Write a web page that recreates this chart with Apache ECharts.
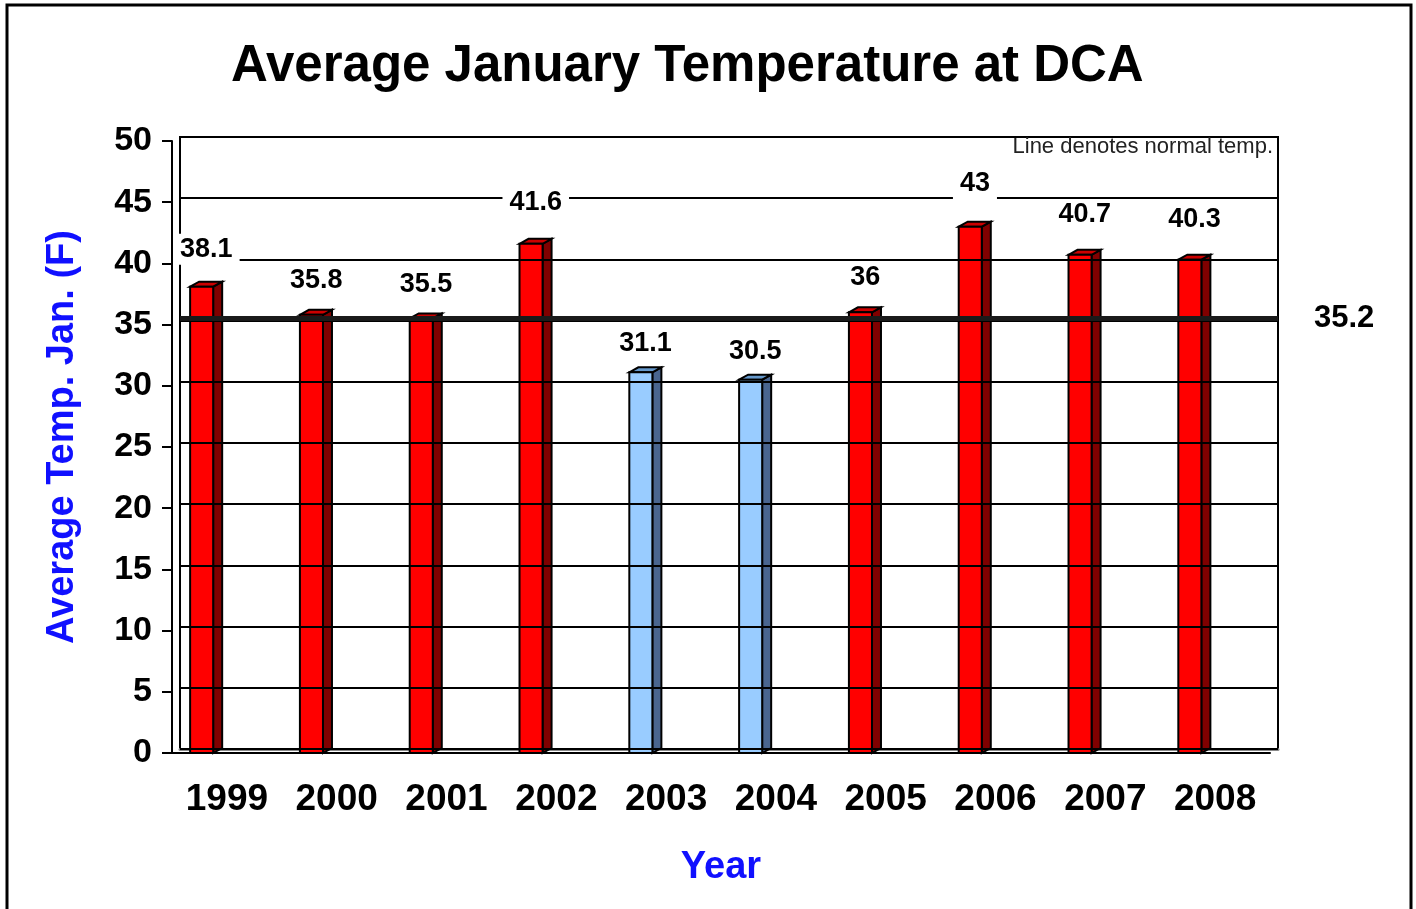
<!DOCTYPE html>
<html>
<head>
<meta charset="utf-8">
<title>Average January Temperature at DCA</title>
<script src="https://cdn.jsdelivr.net/npm/echarts@6/dist/echarts.min.js"></script>
<style>
  html, body { margin: 0; padding: 0; background: #fff; }
  #chart { width: 1416px; height: 909px; }
</style>
</head>
<body>
<div id="chart"></div>
<script>
// data
const years = ["1999", "2000", "2001", "2002", "2003", "2004", "2005", "2006", "2007", "2008"];
const temps = [38.1, 35.8, 35.5, 41.6, 31.1, 30.5, 36, 43, 40.7, 40.3];
const normalTemp = 35.2;
const yTicks = { min: 0, max: 50, step: 5 };

const font = "Liberation Sans, Arial, sans-serif";
const chart = echarts.init(document.getElementById("chart"));

// 3d-ish column: front face, side and top
function renderBar(params, api) {
  const i = api.value(0);
  const v = api.value(1);
  const top = api.coord([i, v]);
  const base = api.coord([i, 0]);
  const band = api.size([1, 0])[0];
  const w = band * 0.21;
  const x0 = top[0] - band * 0.335;
  const dx = 9, dy = 5;
  const cold = v < normalTemp;
  const front = cold ? "#99ccff" : "#ff0000";
  const side = cold ? "#4a6690" : "#800000";
  const lid = cold ? "#6699cc" : "#cc0000";
  const edge = { stroke: "#000", lineWidth: 2 };
  return {
    type: "group",
    children: [
      {
        type: "polygon",
        shape: { points: [[x0 + w, top[1]], [x0 + w + dx, top[1] - dy], [x0 + w + dx, base[1] - dy], [x0 + w, base[1]]] },
        style: Object.assign({ fill: side }, edge)
      },
      {
        type: "polygon",
        shape: { points: [[x0, top[1]], [x0 + dx, top[1] - dy], [x0 + w + dx, top[1] - dy], [x0 + w, top[1]]] },
        style: Object.assign({ fill: lid }, edge)
      },
      {
        type: "rect",
        shape: { x: x0, y: top[1], width: w, height: base[1] - top[1] },
        style: Object.assign({ fill: front }, edge)
      }
    ]
  };
}

// value labels float higher for taller columns (perspective of the old 3d chart)
function renderLabel(params, api) {
  const i = api.value(0);
  const v = api.value(1);
  const p = api.coord([i, v]);
  const band = api.size([1, 0])[0];
  const lift = 24 + (v - 30) * 1.15;
  return {
    type: "text",
    style: {
      text: String(v),
      x: p[0] - band * 0.26,
      y: p[1] - lift,
      align: "center",
      verticalAlign: "middle",
      font: "bold 27px " + font,
      fill: "#000",
      backgroundColor: "#fff",
      padding: [2, 7]
    }
  };
}

const option = {
  backgroundColor: "#fff",
  animation: false,
  title: {
    text: "Average January Temperature at DCA",
    left: 226,
    top: 36,
    textStyle: { fontFamily: font, fontWeight: "bold", fontSize: 51, color: "#000" }
  },
  graphic: [
    {
      type: "rect",
      shape: { x: 7, y: 5, width: 1404, height: 930 },
      style: { fill: null, stroke: "#000", lineWidth: 3 },
      z: 10
    },
    {
      type: "text",
      style: {
        text: "Line denotes normal temp.",
        x: 1273, y: 147,
        align: "right", verticalAlign: "middle",
        font: "22px " + font, fill: "#222"
      },
      z: 10
    }
  ],
  grid: [
    // back wall
    { left: 180, right: 138, top: 137, bottom: 160, show: true, borderColor: "#000", borderWidth: 2, backgroundColor: "transparent" },
    // front axes
    { left: 172, right: 146, top: 141, bottom: 156 }
  ],
  xAxis: [
    {
      gridIndex: 0, type: "category", data: years, offset: 2,
      axisLine: { lineStyle: { color: "#888", width: 3 } },
      axisTick: { show: false }, axisLabel: { show: false }
    },
    {
      gridIndex: 1, type: "category", data: years,
      name: "Year", nameLocation: "middle", nameGap: 96,
      nameTextStyle: { fontFamily: font, fontWeight: "bold", fontSize: 38, color: "#1010ff" },
      axisLine: { lineStyle: { color: "#000", width: 2 } },
      axisTick: { length: 10, interval: 0, lineStyle: { color: "#000", width: 2 } },
      axisLabel: { interval: 0, margin: 28, fontFamily: font, fontWeight: "bold", fontSize: 37, color: "#000" }
    }
  ],
  yAxis: [
    {
      gridIndex: 0, type: "value", min: yTicks.min, max: yTicks.max, interval: yTicks.step, z: 3,
      axisLine: { show: false }, axisTick: { show: false }, axisLabel: { show: false },
      splitLine: { lineStyle: { color: "#000", width: 2 } }
    },
    {
      gridIndex: 1, type: "value", min: yTicks.min, max: yTicks.max, interval: yTicks.step, z: 5,
      name: "Average Temp. Jan. (F)", nameLocation: "middle", nameGap: 90, nameRotate: 90,
      nameTextStyle: { fontFamily: font, fontWeight: "bold", fontSize: 38, color: "#1010ff", padding: [0, 0, 0, 20] },
      axisLine: { show: true, lineStyle: { color: "#000", width: 2 } },
      axisTick: { show: true, length: 10, lineStyle: { color: "#000", width: 2 } },
      axisLabel: { margin: 20, fontFamily: font, fontWeight: "bold", fontSize: 34, color: "#000" },
      splitLine: { show: false }
    }
  ],
  series: [
    {
      name: "bars",
      type: "custom",
      xAxisIndex: 1, yAxisIndex: 1,
      z: 2,
      renderItem: renderBar,
      encode: { x: 0, y: 1 },
      data: temps.map((t, i) => [i, t])
    },
    {
      name: "labels",
      type: "custom",
      xAxisIndex: 0, yAxisIndex: 0,
      z: 4,
      renderItem: renderLabel,
      encode: { x: 0, y: 1 },
      data: temps.map((t, i) => [i, t]),
      markLine: {
        silent: true,
        z: 5,
        symbol: "none",
        lineStyle: { color: "#1a1a1a", width: 5, type: "solid" },
        label: {
          position: "end", distance: 36, formatter: String(normalTemp),
          fontFamily: font, fontWeight: "bold", fontSize: 31, color: "#000"
        },
        data: [{ yAxis: normalTemp }]
      }
    }
  ]
};

chart.setOption(option);
</script>
</body>
</html>
